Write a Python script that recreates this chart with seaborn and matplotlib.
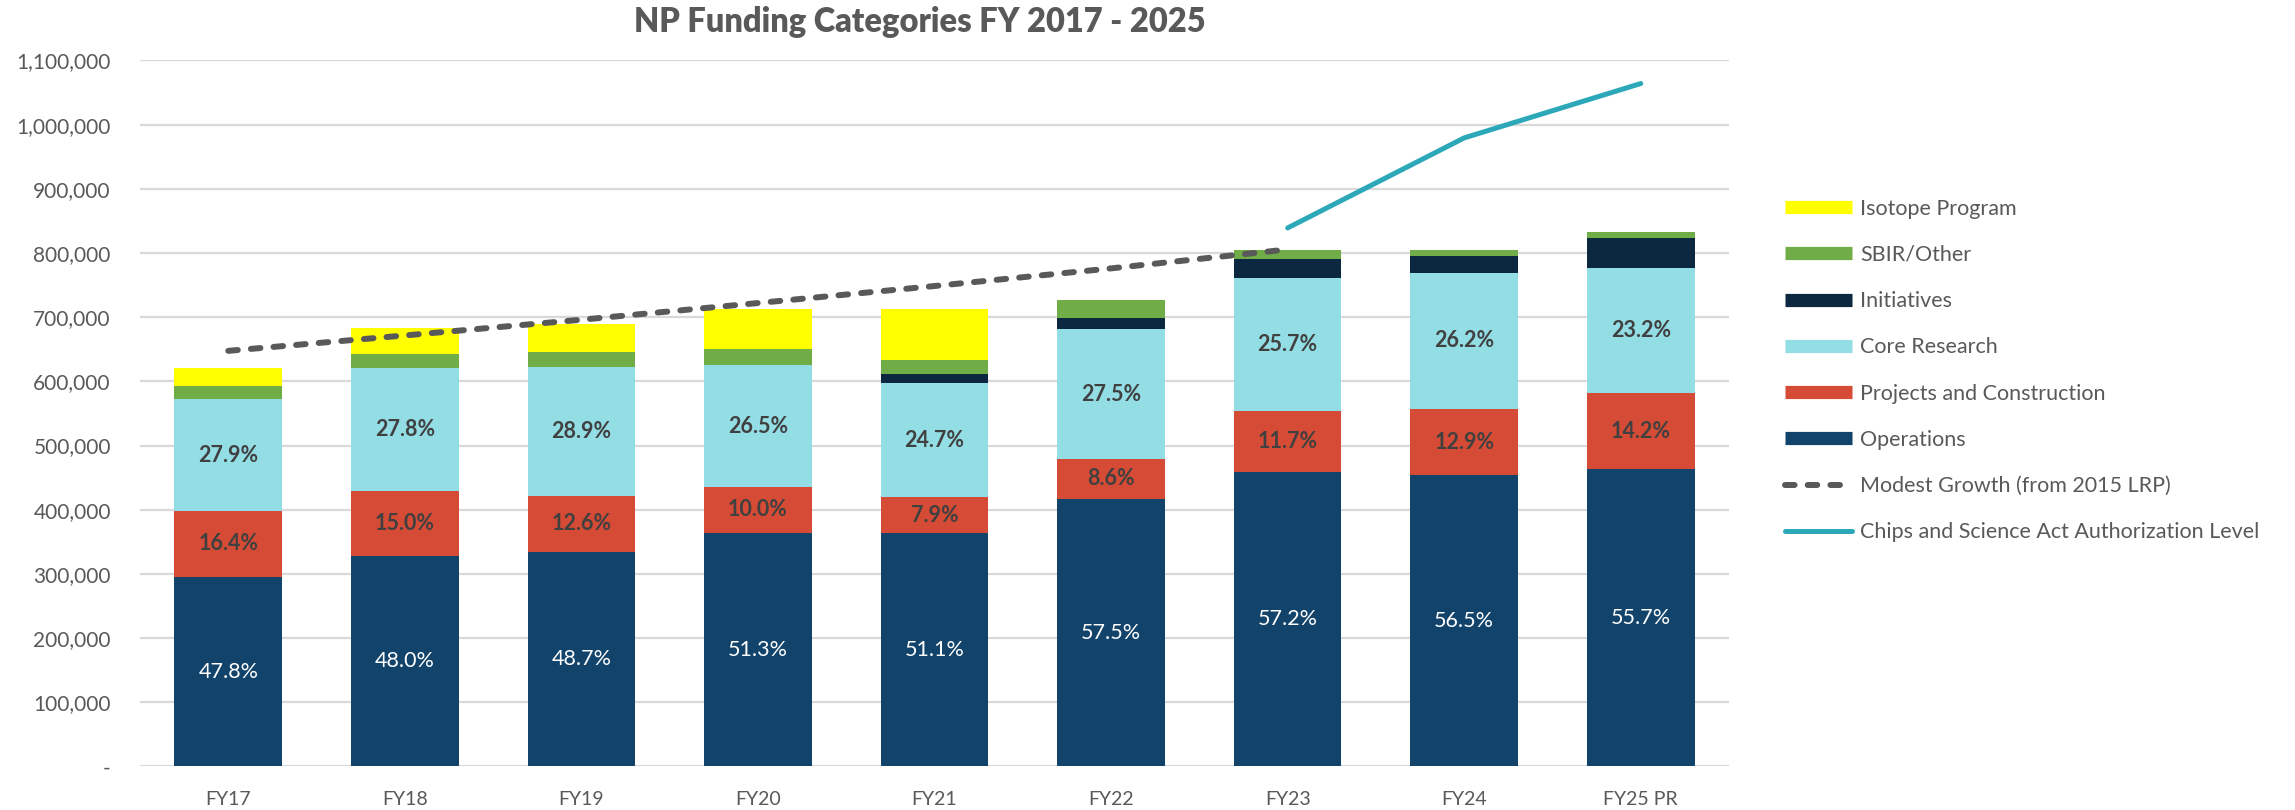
import numpy as np
import pandas as pd
import matplotlib
matplotlib.use("Agg")
import matplotlib.pyplot as plt
from matplotlib.lines import Line2D
from matplotlib.ticker import FuncFormatter
import seaborn as sns

# --- data ---
categories = ["FY17", "FY18", "FY19", "FY20", "FY21", "FY22", "FY23", "FY24", "FY25 PR"]
operations = [295500, 327700, 334400, 364000, 363600, 417000, 459000, 453400, 463200]
projects = [102300, 101700, 87300, 71200, 56000, 62300, 94600, 103800, 118000]
core_research = [174000, 191200, 200400, 190000, 177100, 201500, 207600, 211300, 194700]
initiatives = [0, 0, 0, 0, 14000, 18100, 29600, 26500, 48200]
sbir_other = [20700, 21800, 23400, 25000, 23300, 28500, 14000, 8900, 8800]
isotope = [28500, 40900, 44100, 61800, 78500, 0, 0, 0, 0]

ops_pct = ["47.8%", "48.0%", "48.7%", "51.3%", "51.1%", "57.5%", "57.2%", "56.5%", "55.7%"]
proj_pct = ["16.4%", "15.0%", "12.6%", "10.0%", "7.9%", "8.6%", "11.7%", "12.9%", "14.2%"]
core_pct = ["27.9%", "27.8%", "28.9%", "26.5%", "24.7%", "27.5%", "25.7%", "26.2%", "23.2%"]

modest_growth = [647500, 671500, 696000, 722000, 748500, 776000, 805500]   # FY17 .. FY23
chips_act = [839000, 979300, 1064000]                                      # FY23 .. FY25 PR
chips_start = "FY23"

series = [
    ("Operations", operations, "#11436B"),
    ("Projects and Construction", projects, "#D54B35"),
    ("Core Research", core_research, "#93DDE5"),
    ("Initiatives", initiatives, "#0C2841"),
    ("SBIR/Other", sbir_other, "#70AD47"),
    ("Isotope Program", isotope, "#FFFF00"),
]

TEXT = "#595959"

sns.set_style("white")
plt.rcParams["font.family"] = ["Lato", "DejaVu Sans"]

fig = plt.figure(figsize=(22.95, 8.1), dpi=100)
ax = fig.add_axes([0.061, 0.0538, 0.6924, 0.8716])

df = pd.DataFrame({"cat": categories})
cum = np.zeros(len(categories))
tops = []
for name, vals, color in series:
    cum = cum + np.array(vals, dtype=float)
    tops.append(cum.copy())

# draw cumulative bars from the tallest down so they stack visually
for (name, vals, color), top in reversed(list(zip(series, tops))):
    sns.barplot(x=df["cat"], y=top, color=color, saturation=1, width=0.61,
                edgecolor="none", linewidth=0, ax=ax, order=categories)

# percentage labels in the middle of each lower segment
x_pos = np.arange(len(categories))
bottoms = [np.zeros(len(categories)), tops[0], tops[1]]
labels = [(ops_pct, "white", "normal"), (proj_pct, "#404040", "bold"), (core_pct, "#404040", "bold")]
for i, (txts, col, wt) in enumerate(labels):
    mids = (bottoms[i] + tops[i]) / 2
    for x, y, t in zip(x_pos, mids, txts):
        ax.text(x, y, t, ha="center", va="center", color=col, fontsize=15.5, fontweight=wt)

# trend lines
sns.lineplot(x=np.arange(len(modest_growth)), y=modest_growth, ax=ax, color="#595959",
             lw=4.3, dash_capstyle="round", legend=False)
ax.lines[-1].set_dashes((1.6, 2.2))
i0 = categories.index(chips_start)
sns.lineplot(x=np.arange(i0, i0 + len(chips_act)), y=chips_act, ax=ax, color="#2CA8B8",
             lw=3.6, solid_capstyle="round", legend=False)

ax.set_ylim(0, 1100000)
ax.set_xlim(-0.5, len(categories) - 0.5)
ax.set_yticks(np.arange(0, 1100001, 100000))
ax.yaxis.set_major_formatter(FuncFormatter(lambda v, p: "-" if v == 0 else f"{int(v):,}"))
ax.yaxis.grid(True, color="#D9D9D9", lw=1.6)
ax.set_axisbelow(True)
sns.despine(ax=ax, left=True, bottom=True)
ax.tick_params(axis="y", length=0, pad=21, labelsize=15, labelcolor=TEXT)
ax.tick_params(axis="x", length=0, pad=18, labelsize=14, labelcolor=TEXT)
ax.set_xlabel("")
ax.set_ylabel("")

fig.text(0.401, 0.973, "NP Funding Categories FY 2017 - 2025", ha="center", va="center",
         fontsize=23.5, fontweight="heavy", color=TEXT)

# legend
handles = []
for name, vals, color in reversed(series):
    handles.append(Line2D([], [], color=color, lw=9.5, solid_capstyle="butt", label=name))
handles.append(Line2D([], [], color="#595959", lw=4.3, dashes=(1.6, 2.2),
                      dash_capstyle="round", label="Modest Growth (from 2015 LRP)"))
handles.append(Line2D([], [], color="#2CA8B8", lw=3.6, solid_capstyle="round",
                      label="Chips and Science Act Authorization Level"))
leg = fig.legend(handles=handles, loc="center left", bbox_to_anchor=(0.7778, 0.5426),
                 frameon=False, fontsize=15.5, handlelength=3.1, handletextpad=0.4,
                 labelspacing=1.22, borderpad=0, borderaxespad=0)
for t in leg.get_texts():
    t.set_color(TEXT)

fig.savefig("out.png", dpi=100)
